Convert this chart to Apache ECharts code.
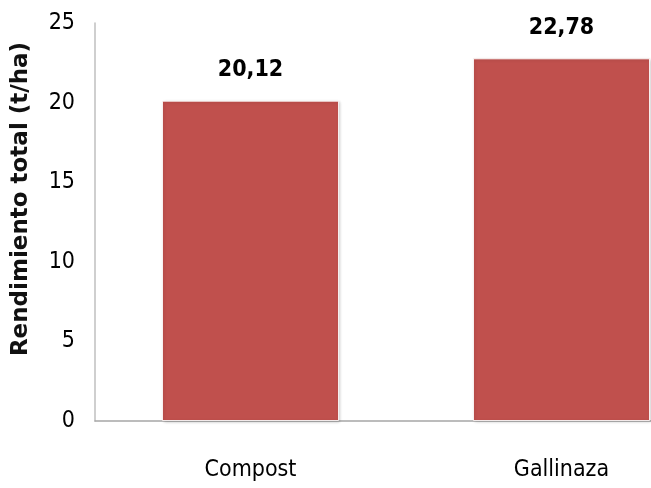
<!DOCTYPE html>
<html>
<head>
<meta charset="utf-8">
<style>
  html, body { margin: 0; padding: 0; background: #fff; overflow: hidden; }
  #wrap { width: 651px; height: 488px; overflow: hidden; }
  /* the plot runs past the right edge of the page, so the second bar is trimmed there */
  #chart { width: 717px; height: 488px; }
</style>
<script src="https://cdn.jsdelivr.net/npm/echarts@6/dist/echarts.min.js"></script>
</head>
<body>
<div id="wrap"><div id="chart"></div></div>
<script>
// Total yield per fertilizer treatment
const categories = ['Compost', 'Gallinaza'];
const yieldValues = [20.12, 22.78];
const yTicks = [0, 5, 10, 15, 20, 25];

const narrow = "'Liberation Sans Narrow', 'DejaVu Sans Condensed', sans-serif";

const chart = echarts.init(document.getElementById('chart'));
chart.setOption({
  animation: false,
  grid: { left: 95, right: 0, top: 23, bottom: 67 },
  xAxis: {
    type: 'category',
    data: categories,
    axisLine: { lineStyle: { color: '#a6a6a6', width: 1.5 } },
    axisTick: { show: false },
    axisLabel: { margin: 38, fontFamily: narrow, fontSize: 23, color: '#000' }
  },
  yAxis: {
    type: 'value',
    min: yTicks[0],
    max: yTicks[yTicks.length - 1],
    interval: 5,
    name: 'Rendimiento total (t/ha)',
    nameLocation: 'middle',
    nameGap: 62,
    nameTextStyle: {
      fontFamily: "'DejaVu Sans', sans-serif",
      fontWeight: 'bold',
      fontSize: 23,
      color: '#111',
      padding: [0, 0, 0, 46]
    },
    axisLine: { show: true, lineStyle: { color: '#bfbfbf', width: 1.5 } },
    axisTick: { show: false },
    splitLine: { show: false },
    axisLabel: { margin: 20, fontFamily: narrow, fontSize: 23, color: '#000' }
  },
  series: [{
    type: 'bar',
    data: yieldValues,
    barWidth: 177,
    itemStyle: {
      color: '#c0504d',
      borderColor: 'rgba(255,255,255,0.85)',
      borderWidth: 1,
      shadowColor: 'rgba(0,0,0,0.18)',
      shadowBlur: 3,
      shadowOffsetX: 1,
      shadowOffsetY: 1
    },
    label: {
      show: true,
      position: 'top',
      distance: 19,
      fontFamily: narrow,
      fontWeight: 'bold',
      fontSize: 23,
      color: '#000',
      formatter: p => p.value.toFixed(2).replace('.', ',')
    }
  }]
});
</script>
</body>
</html>
